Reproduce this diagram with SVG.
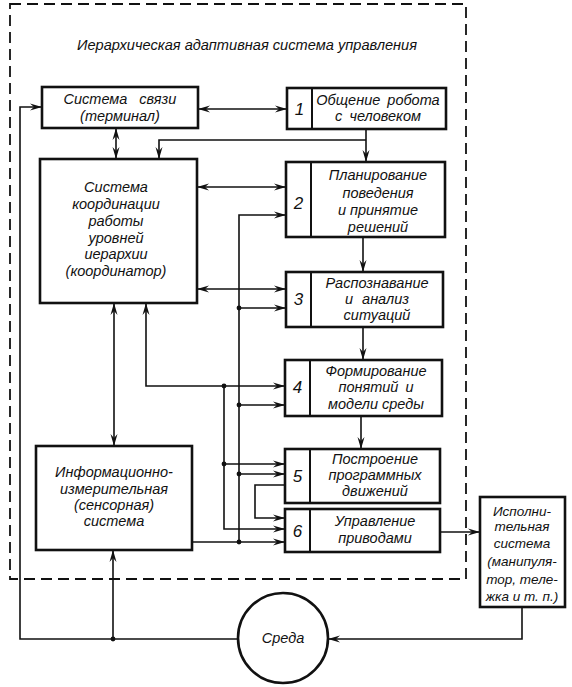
<svg xmlns="http://www.w3.org/2000/svg" width="572" height="687" viewBox="0 0 572 687">
<defs>
<marker id="arr" viewBox="0 0 12 8" refX="11" refY="4" markerWidth="12" markerHeight="8" markerUnits="userSpaceOnUse" orient="auto-start-reverse">
<path d="M0,0.5 L12,4 L0,7.5 L4,4 Z" fill="#111"/>
</marker>
</defs>
<style>
.box{fill:#fff;stroke:#111;stroke-width:2.6}
.div{stroke:#111;stroke-width:2}
.ln{fill:none;stroke:#111;stroke-width:1.6}
.bd{fill:none;stroke:#111;stroke-width:1.8;stroke-dasharray:11 6}
text{font-family:"Liberation Sans","DejaVu Sans",sans-serif;font-style:italic;font-size:14.5px;fill:#111;text-anchor:middle}
.num{font-size:17px}
.title{font-size:14px}
.sm{font-size:13.5px}
.dot{fill:#111}
</style>
<rect width="572" height="687" fill="#fff"/>
<rect class="bd" x="10" y="4" width="456" height="575"/>
<text class="title" x="247" y="50" textLength="340" lengthAdjust="spacingAndGlyphs">Иерархическая адаптивная система управления</text>

<g id="connectors">
<line class="ln" x1="199" y1="109" x2="286" y2="109" marker-start="url(#arr)" marker-end="url(#arr)"/>
<line class="ln" x1="116" y1="129" x2="116" y2="158" marker-start="url(#arr)" marker-end="url(#arr)"/>
<path class="ln" d="M366,130 V161" marker-end="url(#arr)"/>
<path class="ln" d="M366,140 H159 V158" marker-end="url(#arr)"/>
<line class="ln" x1="198" y1="187" x2="285" y2="187" marker-start="url(#arr)" marker-end="url(#arr)"/>
<line class="ln" x1="198" y1="289" x2="285" y2="289" marker-start="url(#arr)" marker-end="url(#arr)"/>
<path class="ln" d="M363,238 V271" marker-end="url(#arr)"/>
<path class="ln" d="M363,328 V359" marker-end="url(#arr)"/>
<path class="ln" d="M361,417 V448" marker-end="url(#arr)"/>
<line class="ln" x1="114" y1="304" x2="114" y2="445" marker-start="url(#arr)" marker-end="url(#arr)"/>
<path class="ln" d="M224,386 H146 V304" marker-end="url(#arr)"/>
<path class="ln" d="M224,386 H284" marker-end="url(#arr)"/>
<path class="ln" d="M224,386 V529 H284" marker-end="url(#arr)"/>
<path class="ln" d="M224,464 H284" marker-end="url(#arr)"/>
<path class="ln" d="M239,542 V215 H285" marker-end="url(#arr)"/>
<path class="ln" d="M239,308 H285" marker-end="url(#arr)"/>
<path class="ln" d="M239,405 H284" marker-end="url(#arr)"/>
<path class="ln" d="M239,474 H284" marker-end="url(#arr)"/>
<path class="ln" d="M193,542 H284" marker-end="url(#arr)"/>
<path class="ln" d="M285,485 H255 V518 H284" marker-end="url(#arr)"/>
<path class="ln" d="M441,532 H479" marker-end="url(#arr)"/>
<path class="ln" d="M522,608 V639 H329" marker-end="url(#arr)"/>
<path class="ln" d="M238,639 H20 V107 H41" marker-end="url(#arr)"/>
<path class="ln" d="M113,639 V551" marker-end="url(#arr)"/>
<circle class="dot" cx="224" cy="386" r="2.4"/>
<circle class="dot" cx="224" cy="464" r="2.4"/>
<circle class="dot" cx="239" cy="308" r="2.4"/>
<circle class="dot" cx="239" cy="405" r="2.4"/>
<circle class="dot" cx="239" cy="474" r="2.4"/>
<circle class="dot" cx="239" cy="542" r="2.4"/>
<circle class="dot" cx="113" cy="639" r="2.4"/>
</g>

<g id="terminal">
<rect class="box" x="42" y="87" width="156" height="41"/>
<text x="120" y="104" word-spacing="8">Система связи</text>
<text x="120" y="121">(терминал)</text>
</g>

<g id="level1">
<rect class="box" x="287" y="88" width="159" height="41"/>
<line class="div" x1="312" y1="88" x2="312" y2="129"/>
<text class="num" x="299.5" y="115">1</text>
<text x="378" y="105" word-spacing="3">Общение робота</text>
<text x="378" y="121" word-spacing="3">с человеком</text>
</g>

<g id="coordinator">
<rect class="box" x="40" y="159" width="157" height="144"/>
<text x="116" y="192">Система</text>
<text x="116" y="209">координации</text>
<text x="116" y="226">работы</text>
<text x="116" y="243">уровней</text>
<text x="116" y="259">иерархии</text>
<text x="116" y="276">(координатор)</text>
</g>

<g id="level2">
<rect class="box" x="286" y="162" width="159" height="75"/>
<line class="div" x1="311" y1="162" x2="311" y2="237"/>
<text class="num" x="298.5" y="209">2</text>
<text x="378" y="180">Планирование</text>
<text x="378" y="198">поведения</text>
<text x="378" y="215">и принятие</text>
<text x="378" y="232">решений</text>
</g>

<g id="level3">
<rect class="box" x="286" y="272" width="157" height="55"/>
<line class="div" x1="311" y1="272" x2="311" y2="327"/>
<text class="num" x="298.5" y="305">3</text>
<text x="377" y="288">Распознавание</text>
<text x="377" y="304" word-spacing="5">и анализ</text>
<text x="377" y="320">ситуаций</text>
</g>

<g id="level4">
<rect class="box" x="285" y="360" width="157" height="56"/>
<line class="div" x1="310" y1="360" x2="310" y2="416"/>
<text class="num" x="297.5" y="393">4</text>
<text x="376" y="376">Формирование</text>
<text x="376" y="392" word-spacing="3">понятий и</text>
<text x="376" y="409">модели среды</text>
</g>

<g id="level5">
<rect class="box" x="285" y="449" width="155" height="54"/>
<line class="div" x1="310" y1="449" x2="310" y2="503"/>
<text class="num" x="297.5" y="482">5</text>
<text x="375" y="464">Построение</text>
<text x="375" y="480">программных</text>
<text x="375" y="496">движений</text>
</g>

<g id="level6">
<rect class="box" x="285" y="509" width="155" height="43"/>
<line class="div" x1="310" y1="509" x2="310" y2="552"/>
<text class="num" x="297.5" y="537">6</text>
<text x="375" y="526">Управление</text>
<text x="375" y="543">приводами</text>
</g>

<g id="sensor">
<rect class="box" x="36" y="446" width="156" height="104"/>
<text x="114" y="477">Информационно-</text>
<text x="114" y="494">измерительная</text>
<text x="114" y="510">(сенсорная)</text>
<text x="114" y="526">система</text>
</g>

<g id="actuator">
<rect class="box" x="480" y="497" width="85" height="110"/>
<text class="sm" x="522" y="516">Исполни-</text>
<text class="sm" x="522" y="531">тельная</text>
<text class="sm" x="522" y="548">система</text>
<text class="sm" x="522" y="566">(манипуля-</text>
<text class="sm" x="522" y="584">тор, теле-</text>
<text class="sm" x="522" y="601">жка и т. п.)</text>
</g>

<g id="environment">
<circle cx="283" cy="638" r="45" fill="#fff" stroke="#111" stroke-width="2.6"/>
<text x="283" y="643">Среда</text>
</g>
</svg>
